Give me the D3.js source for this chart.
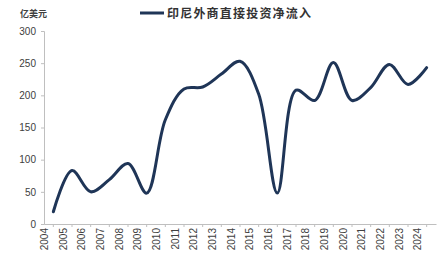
<!DOCTYPE html>
<html><head><meta charset="utf-8">
<script src="https://cdn.jsdelivr.net/npm/d3@7"></script>
<style>
html,body{margin:0;padding:0;background:#fff;}
</style></head>
<body>
<svg id="c" width="438" height="261"></svg>
<script>
const years = ["2004","2005","2006","2007","2008","2009","2010","2011","2012","2013","2014","2015","2016","2017","2018","2019","2020","2021","2022","2023","2024"];
const values = [19,83,50,69,94,48,162,210,213,233,253,202,48,208,192,251,192,212,248,217,243];
const yTicks = [0,50,100,150,200,250,300];
const seriesName = "印尼外商直接投资净流入";
const unitLabel = "亿美元";

const svg = d3.select("#c");
const x = d3.scaleBand().domain(years).range([44,436]);
const y = d3.scaleLinear().domain([0,300]).range([224,31]);

const axisColor = "#bfbfbf";
const font = "'Liberation Sans', Arial, sans-serif";

// y axis
const ya = svg.append("g").attr("transform","translate(44,0)")
  .call(d3.axisLeft(y).tickValues(yTicks).tickSize(3).tickPadding(5));
ya.select(".domain").attr("stroke",axisColor);
ya.selectAll(".tick line").attr("stroke",axisColor);
ya.selectAll("text").attr("font-family",font).attr("font-size",10).attr("fill","#404040");

// x axis
const xa = svg.append("g").attr("transform","translate(0,224)")
  .call(d3.axisBottom(x).tickSize(3).tickSizeOuter(0).tickPadding(4));
xa.select(".domain").attr("stroke",axisColor);
xa.selectAll(".tick line").attr("stroke",axisColor);
xa.selectAll("text").attr("font-family",font).attr("font-size",10).attr("fill","#404040")
  .attr("transform","rotate(-90)").attr("text-anchor","end").attr("dx","-0.4em").attr("dy","-0.55em")
  .attr("x",0).attr("y",0);

// line
const line = d3.line()
  .x((d,i)=>x(years[i])+x.bandwidth()/2)
  .y(d=>y(d))
  .curve(d3.curveCatmullRom.alpha(0.5));
svg.append("path").datum(values).attr("d",line)
  .attr("fill","none").attr("stroke","#1f3557").attr("stroke-width",3)
  .attr("stroke-linejoin","round").attr("stroke-linecap","round");

// legend
svg.append("line").attr("x1",140).attr("x2",164).attr("y1",13).attr("y2",13)
  .attr("stroke","#1f3557").attr("stroke-width",3);
svg.append("text").attr("x",167).attr("y",17.5).text(seriesName)
  .attr("font-family","'Noto Sans CJK SC', sans-serif").attr("font-size",12).attr("font-weight","bold")
  .attr("letter-spacing",1.2).attr("fill","#333");

// unit
svg.append("text").attr("x",20).attr("y",17).text(unitLabel)
  .attr("font-family","'Noto Sans CJK SC', sans-serif").attr("font-size",9).attr("font-weight","bold").attr("fill","#404040");
</script>
</body></html>
